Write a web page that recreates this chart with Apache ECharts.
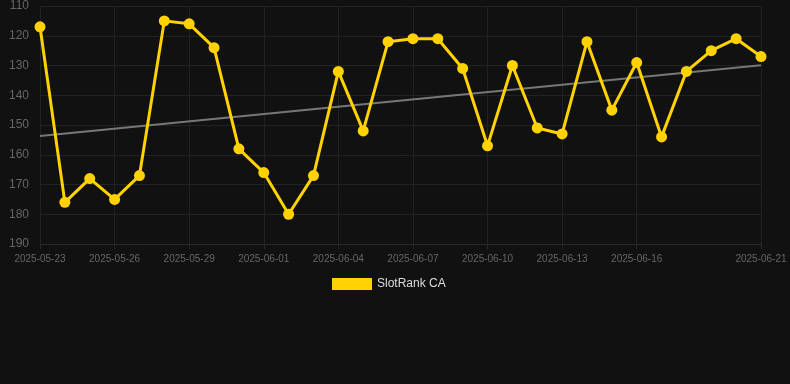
<!DOCTYPE html>
<html>
<head>
<meta charset="utf-8">
<script src="https://cdn.jsdelivr.net/npm/echarts@6/dist/echarts.min.js"></script>
<style>
html,body{margin:0;padding:0;background:#111111;}
#chart{width:790px;height:384px;}
</style>
</head>
<body>
<div id="chart"></div>
<script>
var categories = ['2025-05-23','2025-05-24','2025-05-25','2025-05-26','2025-05-27','2025-05-28','2025-05-29','2025-05-30','2025-05-31','2025-06-01','2025-06-02','2025-06-03','2025-06-04','2025-06-05','2025-06-06','2025-06-07','2025-06-08','2025-06-09','2025-06-10','2025-06-11','2025-06-12','2025-06-13','2025-06-14','2025-06-15','2025-06-16','2025-06-17','2025-06-18','2025-06-19','2025-06-20','2025-06-21'];
var rankValues = [117,176,168,175,167,115,116,124,158,166,180,167,132,152,122,121,121,131,157,130,151,153,122,145,129,154,132,125,121,127];
var trendEnds = [153.7,129.9];
var seriesName = 'SlotRank CA';
var shownLabels = [0,3,6,9,12,15,18,21,24,29];

var trendData = [[categories[0], trendEnds[0]], [categories[categories.length-1], trendEnds[1]]];
function showIdx(i){ return shownLabels.indexOf(i) >= 0; }

var chart = echarts.init(document.getElementById('chart'));
chart.setOption({
  backgroundColor: '#111111',
  animation: false,
  grid: {left: 40, right: 29, top: 6, bottom: 140},
  legend: {
    data: [seriesName],
    top: 278,
    left: 332,
    itemWidth: 40,
    itemHeight: 12,
    itemGap: 10,
    padding: 0,
    textStyle: {color: '#dddddd', fontSize: 12, fontFamily: 'Liberation Sans, Arial, sans-serif'},
    icon: 'rect'
  },
  xAxis: {
    type: 'category',
    data: categories,
    boundaryGap: false,
    axisLine: {show: true, lineStyle: {color: '#2a2a2a'}},
    axisTick: {show: true, interval: function(i){return showIdx(i);}, lineStyle: {color: '#2a2a2a'}},
    axisLabel: {interval: function(i){return showIdx(i);}, color: '#666666', fontSize: 10, margin: 10, fontFamily: 'Liberation Sans, Arial, sans-serif'},
    splitLine: {show: true, interval: function(i){return showIdx(i);}, lineStyle: {color: '#222222'}}
  },
  yAxis: {
    type: 'value',
    inverse: true,
    min: 110,
    max: 190,
    interval: 10,
    axisLine: {show: false},
    axisTick: {show: false},
    axisLabel: {color: '#666666', fontSize: 12, margin: 11, fontFamily: 'Liberation Sans, Arial, sans-serif'},
    splitLine: {show: true, lineStyle: {color: '#222222'}}
  },
  series: [
    {
      name: seriesName,
      type: 'line',
      data: rankValues,
      symbol: 'circle',
      symbolSize: 11,
      lineStyle: {color: '#ffd200', width: 3},
      itemStyle: {color: '#ffd200'},
      z: 3
    },
    {
      name: 'trend',
      type: 'line',
      data: trendData,
      symbol: 'none',
      lineStyle: {color: '#777777', width: 2},
      itemStyle: {color: '#777777'},
      z: 2
    }
  ]
});
</script>
</body>
</html>
